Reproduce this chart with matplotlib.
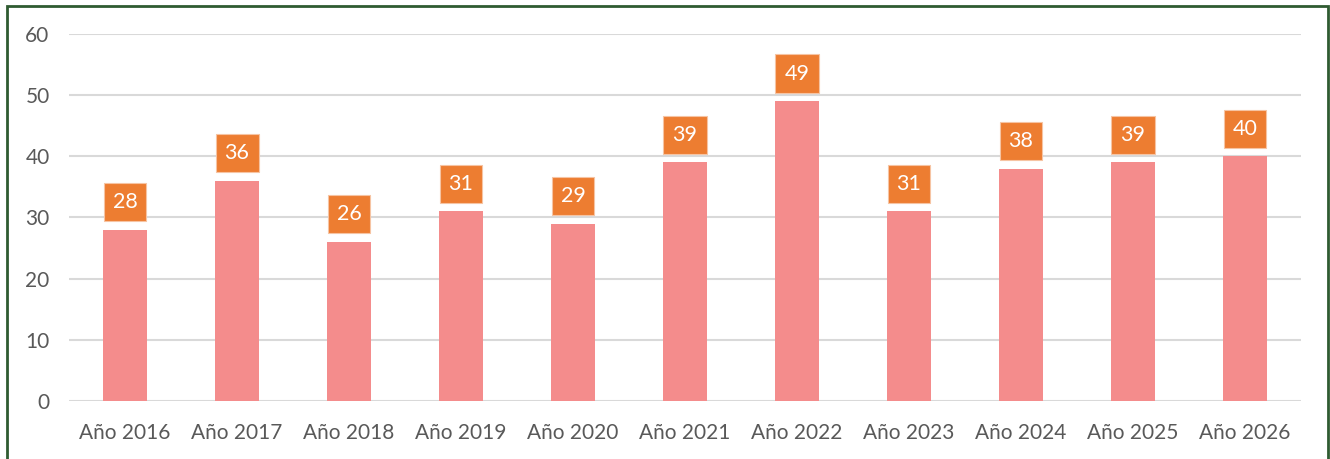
import matplotlib.pyplot as plt
from matplotlib.patches import Rectangle

years = ['Año 2016', 'Año 2017', 'Año 2018', 'Año 2019', 'Año 2020', 'Año 2021',
         'Año 2022', 'Año 2023', 'Año 2024', 'Año 2025', 'Año 2026']
values = [28, 36, 26, 31, 29, 39, 49, 31, 38, 39, 40]
yticks = [0, 10, 20, 30, 40, 50, 60]

plt.rcParams['font.family'] = ['Lato', 'DejaVu Sans']

fig = plt.figure(figsize=(13.3, 4.59), dpi=100)
ax = fig.add_axes([0.0519, 0.1264, 0.9263, 0.7995])

x = range(len(years))
ax.bar(x, values, width=0.4, color='#F48C8C', zorder=2)

# value labels in orange boxes
for xi, v in zip(x, values):
    ax.annotate(str(v), (xi, v), xytext=(0, 20), textcoords='offset points',
                ha='center', va='center', fontsize=15.5, color='white', zorder=3,
                bbox=dict(boxstyle='square,pad=0.42', fc='#ED7D31', ec='#F6C4A3', lw=0.8))

ax.set_xlim(-0.5, len(years) - 0.5)
ax.set_ylim(0, 60)
ax.set_yticks(yticks)
ax.set_xticks(list(x))
ax.set_xticklabels(years)
ax.tick_params(axis='both', length=0, labelsize=15, colors='#595959')
ax.tick_params(axis='y', pad=14)
ax.tick_params(axis='x', pad=16)
ax.grid(axis='y', color='#D9D9D9', linewidth=1.5, zorder=0)
for s in ax.spines.values():
    s.set_visible(False)

# dark green frame around the chart
fig.patches.append(Rectangle((6.5 / 1330, -0.05), 1321.5 / 1330, 1.05 - 5.5 / 459,
                             transform=fig.transFigure, fill=False,
                             ec='#2F5B31', lw=2, clip_on=False))

fig.savefig('out.png', dpi=100)
